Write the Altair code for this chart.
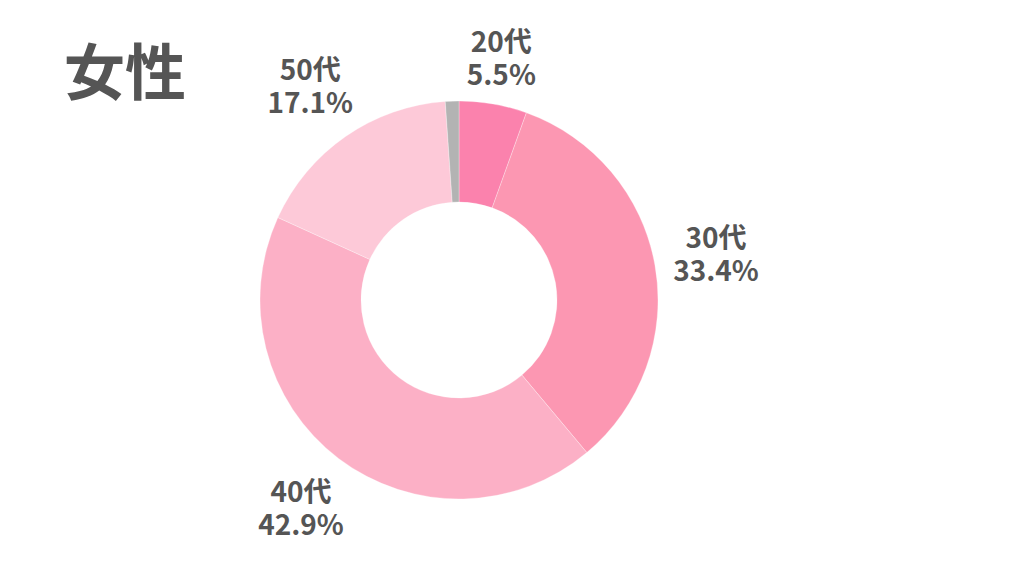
import altair as alt
import pandas as pd

categories = ["20代", "30代", "40代", "50代", "その他"]
values = [5.5, 33.4, 42.9, 17.1, 1.1]
labels = ["20代\n5.5%", "30代\n33.4%", "40代\n42.9%", "50代\n17.1%", ""]
colors = ["#FB82AD", "#FC97B2", "#FCB0C6", "#FDC9D8", "#B3B3B3"]

df = pd.DataFrame({
    "cat": categories,
    "val": values,
    "label": labels,
    "idx": list(range(len(categories))),
})

FONT = "Noto Sans CJK JP"
CX, CY = 451, 292
theta_scale = alt.Scale(domain=[0, 100])

arcs = alt.Chart(df).mark_arc(outerRadius=199, innerRadius=98, stroke="white", strokeWidth=0.3).encode(
    theta=alt.Theta("val:Q", stack=True, scale=theta_scale),
    order=alt.Order("idx:Q"),
    color=alt.Color("cat:N", scale=alt.Scale(domain=categories, range=colors), legend=None),
    x=alt.value(CX),
    y=alt.value(CY),
)

text_style = dict(font=FONT, fontWeight="bold", fontSize=28, color="#555555",
                  align="center", baseline="middle", lineBreak="\n", lineHeight=33, dy=-14)

text_base = alt.Chart(df).transform_window(
    cum="sum(val)", sort=[alt.SortField("idx")], frame=[None, 0]
).transform_calculate(
    mid="datum.cum - datum.val / 2"
).encode(
    theta=alt.Theta("mid:Q", scale=theta_scale),
    text="label:N",
    x=alt.value(CX),
    y=alt.value(CY),
)

text_near = text_base.mark_text(radius=246, **text_style).transform_filter(alt.datum.cat == "20代")
text_far = text_base.mark_text(radius=261, **text_style).transform_filter(
    (alt.datum.cat != "20代") & (alt.datum.label != ""))

title = alt.Chart(pd.DataFrame({"t": ["女性"]})).mark_text(
    font=FONT, fontWeight="bold", fontSize=61, color="#555555",
    align="left", baseline="middle",
).encode(text="t:N", x=alt.value(56), y=alt.value(69))

chart = alt.layer(arcs, text_near, text_far, title).properties(
    width=1008, height=560, autosize=alt.AutoSizeParams(type="none"), padding=0,
).configure_view(strokeWidth=0)

chart.save("out.html", embed_options={"renderer": "svg", "actions": False})
